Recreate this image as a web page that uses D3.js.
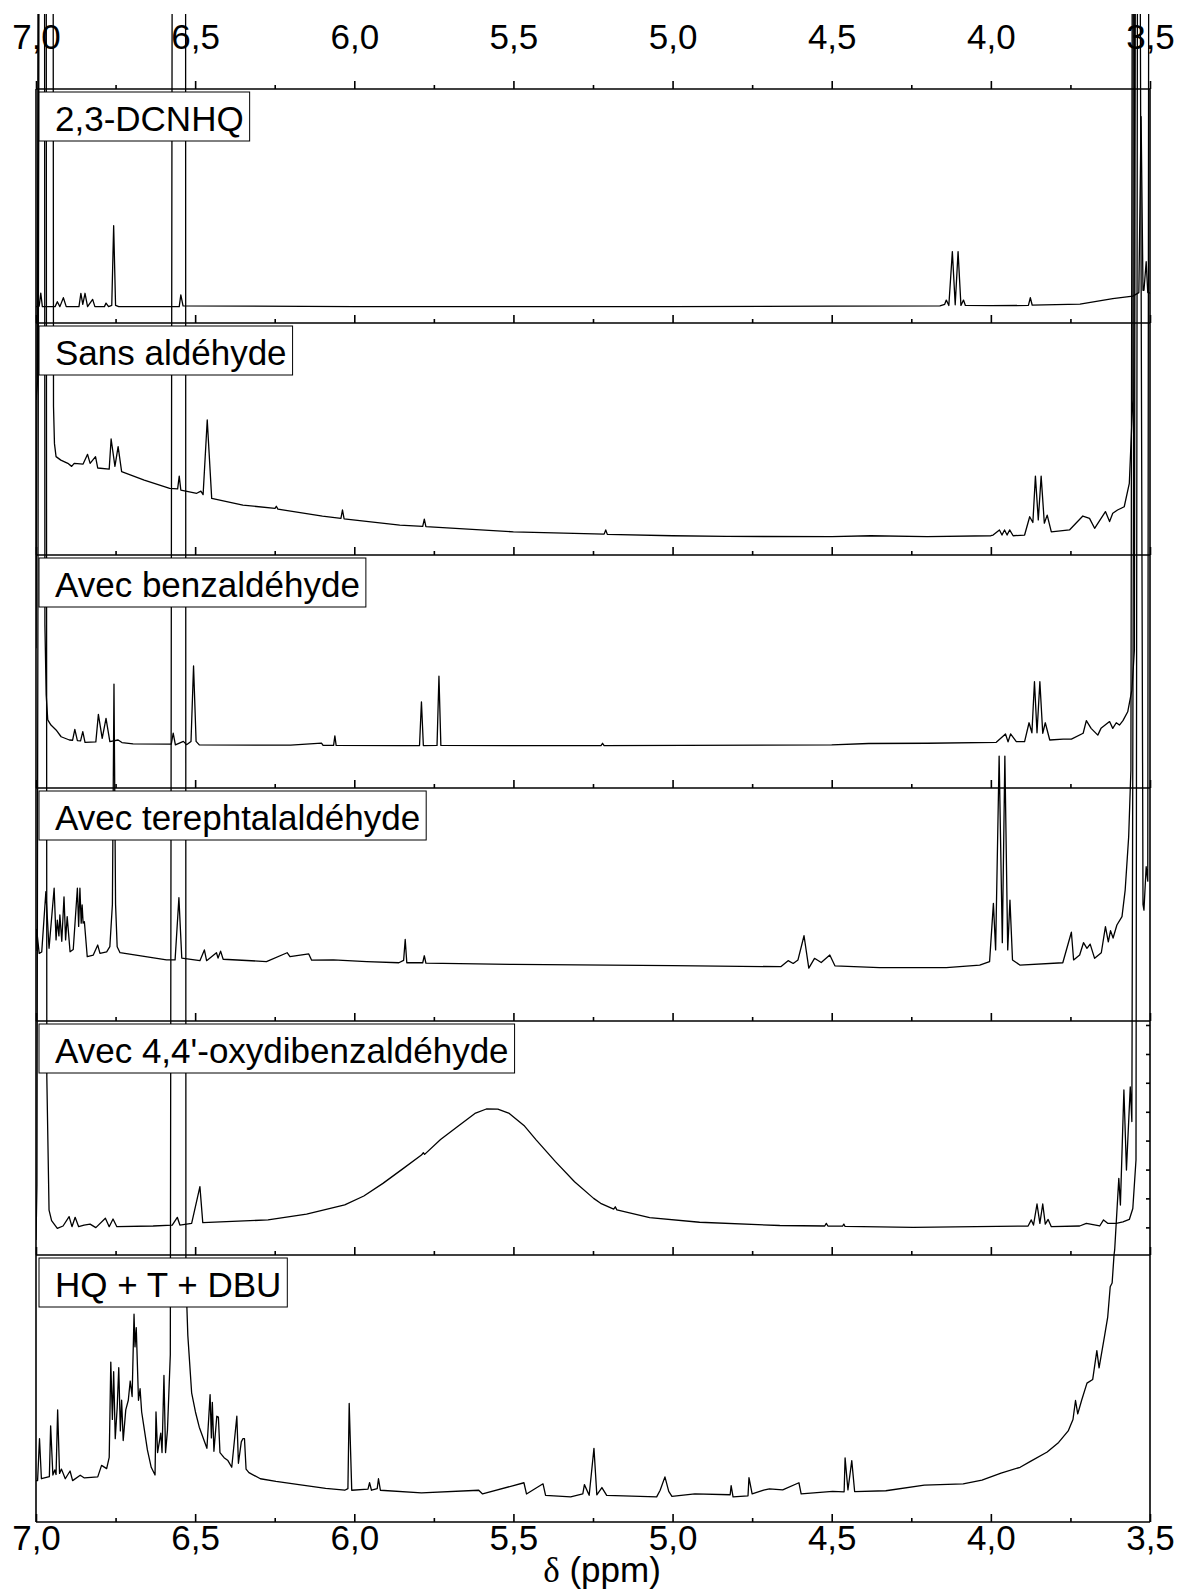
<!DOCTYPE html>
<html><head><meta charset="utf-8">
<script src="https://cdn.jsdelivr.net/npm/d3@7"></script>
<style>body{margin:0;background:#fff}svg{display:block}</style>
</head><body>
<svg id="chart" width="1181" height="1593"></svg>
<script>
// ---------------- DATA ----------------
const panelLabels = ["2,3-DCNHQ", "Sans aldéhyde", "Avec benzaldéhyde", "Avec terephtalaldéhyde", "Avec 4,4'-oxydibenzaldéhyde", "HQ + T + DBU"];
const majorTicks = [7.0, 6.5, 6.0, 5.5, 5.0, 4.5, 4.0, 3.5];
const minorTicks = [6.75, 6.25, 5.75, 5.25, 4.75, 4.25, 3.75];
const xLabel = ["δ", " (ppm)"];
const oxyRightTicks = [11.8, 24.2, 36.5, 48.9, 61.2, 73.6, 85.9, 98.3];

// [ppm, intensity (% of panel height)]
const dcnhq = [[7.000,7.0],[6.990,7.2],[6.985,12.8],[6.980,7.0],[6.940,7.0],[6.933,9.1],[6.925,7.0],[6.914,10.8],[6.905,7.0],[6.865,7.0],[6.859,12.7],[6.853,8.0],[6.846,12.7],[6.838,7.0],[6.822,10.1],[6.815,7.0],[6.785,7.0],[6.780,8.5],[6.772,7.0],[6.762,7.5],[6.756,41.6],[6.750,7.5],[6.740,7.0],[6.550,7.0],[6.545,12.0],[6.538,7.3],[6.000,7.0],[5.000,7.0],[4.500,7.2],[4.160,7.3],[4.145,8.0],[4.140,9.8],[4.132,7.5],[4.121,30.5],[4.112,7.8],[4.103,30.5],[4.094,7.5],[4.086,9.8],[4.080,7.5],[4.000,7.4],[3.882,7.5],[3.876,10.8],[3.870,7.6],[3.720,8.1],[3.617,10.4],[3.554,11.5],[3.535,13.0],[3.528,88.2],[3.522,14.0],[3.519,14.0],[3.512,26.2],[3.507,13.0],[3.504,12.7],[3.500,13.0]];

const sans = [[7.000,66.8],[6.995,75],[6.990,600],[6.948,600],[6.945,64],[6.942,48],[6.937,42.4],[6.922,40.9],[6.900,39.5],[6.888,38.2],[6.880,39.5],[6.852,39.2],[6.838,43.4],[6.830,39.5],[6.813,42.4],[6.806,37.5],[6.770,37],[6.764,50],[6.752,38.2],[6.742,46.7],[6.731,35.9],[6.660,32.3],[6.580,28.7],[6.555,28.5],[6.550,34],[6.545,28],[6.495,26.6],[6.482,27.5],[6.475,26],[6.462,58.2],[6.448,24.4],[6.350,21.5],[6.249,20.1],[6.245,21],[6.240,19.8],[6.100,16.8],[6.042,15.8],[6.037,19.4],[6.032,15.6],[5.857,12.9],[5.785,12.3],[5.780,15.5],[5.775,12.2],[5.500,10],[5.215,9],[5.210,10.8],[5.205,8.9],[5.000,8.3],[4.830,8],[4.500,7.9],[4.378,8.3],[4.200,7.9],[4.000,8.3],[3.993,8.6],[3.973,10.8],[3.965,8.6],[3.957,10.8],[3.949,8.6],[3.941,10.8],[3.930,8.3],[3.894,8.6],[3.878,16.5],[3.868,14],[3.860,34],[3.851,15.1],[3.842,34],[3.832,13.7],[3.823,17.2],[3.810,10],[3.753,10.8],[3.711,16.8],[3.690,15.8],[3.674,11.5],[3.640,18.7],[3.627,14.4],[3.617,18],[3.602,19.4],[3.581,20.8],[3.565,30.9],[3.554,66.8],[3.549,600],[3.500,600]];

const benz = [[7.000,60],[6.985,600],[6.974,600],[6.972,70],[6.968,40],[6.963,29.2],[6.953,27],[6.937,24.9],[6.921,22],[6.895,20.6],[6.885,20.5],[6.878,25.2],[6.870,20.3],[6.860,20.2],[6.853,24.2],[6.846,19.6],[6.812,19.8],[6.804,31.6],[6.792,21.3],[6.780,29.9],[6.768,19.9],[6.742,20.6],[6.730,19.5],[6.695,18.9],[6.575,18.8],[6.569,23.5],[6.562,18.5],[6.537,20.0],[6.527,18.6],[6.513,20],[6.505,52.4],[6.497,20],[6.487,18.5],[6.200,18.4],[6.103,19.3],[6.098,18.3],[6.065,18.3],[6.061,22.4],[6.057,18.3],[5.857,18.2],[5.795,18.2],[5.789,37],[5.783,18.2],[5.740,18.3],[5.734,48],[5.728,18.3],[5.500,18.2],[5.225,18.2],[5.220,19.2],[5.215,18.2],[4.500,18.5],[4.384,19.1],[4.200,19.2],[3.983,19.6],[3.954,23.2],[3.946,19.8],[3.938,23.2],[3.920,19.9],[3.894,19.9],[3.880,28],[3.871,23.7],[3.863,45.6],[3.855,23.7],[3.846,45.6],[3.837,23.5],[3.829,28],[3.815,20.6],[3.773,21],[3.747,21],[3.710,23.5],[3.700,28.9],[3.685,25.6],[3.664,22.7],[3.654,25.6],[3.627,28.5],[3.617,25.6],[3.606,28],[3.596,27],[3.585,28.9],[3.570,32.7],[3.557,42],[3.549,59.2],[3.544,600],[3.500,600]];

const tere = [[7.000,30],[6.998,39.3],[6.990,29],[6.982,29.6],[6.969,55.5],[6.959,31.2],[6.943,57],[6.937,34.8],[6.933,43.3],[6.928,36.5],[6.925,45.5],[6.919,34.2],[6.912,53.3],[6.907,34.8],[6.902,44.8],[6.893,29.7],[6.883,30.7],[6.870,57],[6.866,40.6],[6.862,57],[6.858,42],[6.855,49.8],[6.852,42],[6.848,42.6],[6.839,27.6],[6.820,28.3],[6.806,32.6],[6.799,29],[6.778,29.7],[6.768,31.9],[6.760,50],[6.755,144.6],[6.750,50],[6.745,31.9],[6.736,29.3],[6.590,26.2],[6.563,26.2],[6.551,52.9],[6.542,27],[6.485,25.9],[6.471,30.5],[6.464,25.9],[6.433,29.3],[6.428,27],[6.420,30],[6.412,26.5],[6.276,25.5],[6.211,29.3],[6.202,27.6],[6.143,28.8],[6.134,26.1],[6.066,26.2],[5.961,25.5],[5.860,25.0],[5.845,26],[5.840,35],[5.835,25],[5.785,25],[5.780,28],[5.775,24.8],[5.500,24.3],[5.000,23.8],[4.660,23.3],[4.637,25.9],[4.621,24.7],[4.606,26.2],[4.587,36.6],[4.572,22.7],[4.554,26.9],[4.533,25.1],[4.506,28.3],[4.490,23.7],[4.350,22.9],[4.140,22.9],[4.035,24],[4.004,25.5],[3.992,50.5],[3.985,30.5],[3.974,113.7],[3.964,33.6],[3.956,113.7],[3.947,30.5],[3.940,51.9],[3.932,26.2],[3.909,24],[3.774,25],[3.747,38.1],[3.740,26.2],[3.721,28.3],[3.709,33.6],[3.698,31.2],[3.688,33],[3.674,26.9],[3.653,29.3],[3.640,40.5],[3.631,34],[3.624,38.8],[3.616,35.6],[3.604,41.2],[3.588,44.8],[3.578,56.2],[3.567,79.1],[3.560,107.7],[3.554,600],[3.534,600],[3.522,50],[3.519,47.6],[3.512,66.2],[3.507,60],[3.503,600],[3.500,600]];

const oxy = [[7.000,6.4],[6.997,30],[6.990,600],[6.968,600],[6.966,76],[6.959,19.2],[6.951,14.7],[6.933,11.4],[6.915,12.4],[6.896,16.4],[6.887,12.1],[6.877,16.1],[6.866,12.1],[6.849,12.8],[6.830,13.2],[6.812,11.7],[6.782,15.7],[6.770,12.1],[6.758,15.4],[6.746,12.1],[6.632,12.4],[6.572,12.8],[6.556,16.1],[6.548,12.8],[6.511,13.5],[6.485,29.2],[6.476,13.8],[6.271,15.0],[6.150,17.5],[6.030,21.4],[5.970,25.2],[5.910,30.6],[5.850,36.6],[5.789,42.7],[5.783,43.7],[5.779,43.0],[5.729,49.4],[5.669,55.6],[5.621,60.5],[5.585,62.4],[5.549,62.3],[5.513,60.5],[5.465,55.1],[5.428,49.1],[5.368,39.9],[5.308,31.3],[5.248,24.2],[5.226,22.1],[5.185,19.6],[5.180,20.6],[5.175,19.3],[5.072,16],[4.915,14],[4.663,12.6],[4.522,12.4],[4.517,13.5],[4.512,12.4],[4.466,12.3],[4.462,13.2],[4.458,12.2],[4.244,11.8],[3.883,12.4],[3.873,15],[3.866,12.8],[3.855,21.8],[3.846,13.5],[3.837,21.8],[3.829,13.2],[3.820,15.2],[3.810,12.1],[3.721,12.4],[3.700,13.5],[3.658,12.4],[3.646,15],[3.632,13.5],[3.606,13.5],[3.585,14.2],[3.565,15.2],[3.554,19.9],[3.544,40.6],[3.539,600],[3.500,600]];

const hqtdbu = [[7.000,15.5],[6.995,15.5],[6.989,31.2],[6.983,16.2],[6.958,17.0],[6.954,36],[6.947,17.6],[6.941,19.5],[6.937,17.8],[6.932,42],[6.926,18.2],[6.920,19.8],[6.908,16.2],[6.893,19.1],[6.885,15.5],[6.861,17.5],[6.848,16.5],[6.806,16.9],[6.794,21.2],[6.778,20.0],[6.770,24.2],[6.765,59.9],[6.760,38.4],[6.756,56.3],[6.751,31.2],[6.745,42.7],[6.740,57.8],[6.735,34.1],[6.731,45.6],[6.726,30.5],[6.718,42],[6.710,45.6],[6.704,52.8],[6.698,47],[6.692,77.8],[6.689,65.6],[6.685,72.8],[6.678,45.6],[6.673,49.9],[6.668,41.2],[6.662,36.5],[6.650,27],[6.638,20.5],[6.626,17.6],[6.623,41.2],[6.618,26],[6.608,33.3],[6.604,26],[6.598,54.9],[6.593,26],[6.587,34.3],[6.578,62.7],[6.572,600],[6.530,600],[6.529,91.4],[6.523,69.9],[6.511,48.4],[6.499,41.2],[6.487,35.5],[6.463,27.6],[6.453,47.7],[6.449,31.5],[6.446,44.8],[6.441,26.5],[6.432,39.6],[6.427,39.3],[6.422,26.0],[6.409,24.1],[6.397,23],[6.385,20.5],[6.369,39.6],[6.364,22],[6.355,30],[6.350,31.2],[6.345,31.2],[6.340,19.8],[6.331,18.5],[6.295,16.2],[6.246,15.2],[6.174,14.0],[6.090,12.6],[6.030,11.9],[6.020,12.5],[6.016,44.4],[6.008,11.9],[5.957,12.3],[5.952,14.7],[5.946,11.9],[5.928,12.5],[5.924,16.2],[5.918,11.9],[5.789,10.9],[5.609,11.9],[5.597,10.5],[5.467,14.7],[5.459,10.5],[5.407,14.3],[5.399,10],[5.320,9.4],[5.282,10.5],[5.277,14],[5.262,10],[5.247,27.6],[5.238,10.2],[5.222,12.9],[5.207,10],[5.050,9.4],[5.039,11.9],[5.024,16.9],[5.012,11.5],[5.002,9.6],[4.930,10.5],[4.819,10.2],[4.816,13.6],[4.810,9.4],[4.763,9.8],[4.760,16.6],[4.750,10.5],[4.714,11.9],[4.696,12.4],[4.654,12.0],[4.603,14.7],[4.596,10.5],[4.497,11.5],[4.461,11.3],[4.458,24],[4.449,12],[4.437,23],[4.428,11.4],[4.330,11.7],[4.209,13.8],[4.087,14.3],[4.028,15.7],[3.968,18.3],[3.908,20.5],[3.877,22.6],[3.823,26.2],[3.787,29.8],[3.757,34.1],[3.742,38.4],[3.734,45.5],[3.727,40.5],[3.715,45.5],[3.698,52],[3.680,53.4],[3.667,64.2],[3.660,57.7],[3.643,69.5],[3.633,76.6],[3.625,88.1],[3.619,89.5],[3.613,100],[3.611,101.9],[3.598,128.7],[3.593,118.7],[3.582,161.8],[3.574,131.8],[3.562,163],[3.557,150],[3.548,565],[3.500,565]];

const spectra = [dcnhq, sans, benz, tere, oxy, hqtdbu];

// ---------------- LAYOUT ----------------
const W = 1181, H = 1593;
const xLeft = 36, xRight = 1150;
const panelEdges = [89, 323, 555, 788, 1021, 1255, 1522];
const FONT = "Arial, 'Liberation Sans', Helvetica, sans-serif";

const svg = d3.select("#chart");
const x = d3.scaleLinear().domain([7.0, 3.5]).range([xLeft, xRight]);
const fmt = d => d.toFixed(1).replace(".", ",");

svg.append("defs").append("clipPath").attr("id", "clipAll")
  .append("rect").attr("x", xLeft).attr("y", 14).attr("width", xRight - xLeft + 1).attr("height", H - 14);

const yScales = spectra.map((s, i) =>
  d3.scaleLinear().domain([0, 100]).range([panelEdges[i + 1], panelEdges[i]]));

// spectra
const gSpec = svg.append("g").attr("clip-path", "url(#clipAll)");
spectra.forEach((s, i) => {
  const line = d3.line().x(d => x(d[0])).y(d => yScales[i](d[1]));
  gSpec.append("path").datum(s).attr("d", line)
    .attr("fill", "none").attr("stroke", "#000").attr("stroke-width", 1.3)
    .attr("stroke-linejoin", "round");
});

// frame and axes
const gAx = svg.append("g");
function styleAxis(g) {
  g.select(".domain").remove();
  g.selectAll(".tick line").attr("stroke", "#000").attr("stroke-width", 1.6);
}
// top axis with labels
const topAx = gAx.append("g").attr("transform", `translate(0,${panelEdges[0]})`)
  .call(d3.axisTop(x).tickValues(majorTicks).tickSize(8).tickFormat(fmt));
styleAxis(topAx);
topAx.selectAll(".tick text").attr("font-family", FONT).attr("font-size", 35).attr("fill", "#000").attr("dy", 0).attr("y", -40);
gAx.append("g").attr("transform", `translate(0,${panelEdges[0]})`)
  .call(d3.axisTop(x).tickValues(minorTicks).tickSize(4).tickFormat("")).call(styleAxis);

// panel bottoms: inward ticks
for (let i = 1; i < panelEdges.length; i++) {
  gAx.append("g").attr("transform", `translate(0,${panelEdges[i]})`)
    .call(d3.axisTop(x).tickValues(majorTicks).tickSize(8).tickFormat("")).call(styleAxis);
  gAx.append("g").attr("transform", `translate(0,${panelEdges[i]})`)
    .call(d3.axisTop(x).tickValues(minorTicks).tickSize(4).tickFormat("")).call(styleAxis);
}
// bottom labels
const botAx = gAx.append("g").attr("transform", `translate(0,${panelEdges[6]})`)
  .call(d3.axisBottom(x).tickValues(majorTicks).tickSize(0).tickFormat(fmt));
botAx.select(".domain").remove();
botAx.selectAll(".tick line").remove();
botAx.selectAll(".tick text").attr("font-family", FONT).attr("font-size", 35).attr("fill", "#000").attr("dy", 0).attr("y", 28);

// horizontal lines
panelEdges.forEach(y => gAx.append("line").attr("x1", xLeft).attr("x2", xRight).attr("y1", y).attr("y2", y)
  .attr("stroke", "#000").attr("stroke-width", 1.6));
// vertical frame
[xLeft, xRight].forEach(xx => gAx.append("line").attr("x1", xx).attr("x2", xx)
  .attr("y1", panelEdges[0]).attr("y2", panelEdges[6]).attr("stroke", "#000").attr("stroke-width", 1.6));

// right ticks on oxy panel
const rAx = gAx.append("g").attr("transform", `translate(${xRight},0)`)
  .call(d3.axisLeft(yScales[4]).tickValues(oxyRightTicks).tickSize(4).tickFormat(""));
styleAxis(rAx);

// panel labels
const gLab = svg.append("g");
panelLabels.forEach((lab, i) => {
  const top = panelEdges[i] + 3;
  const g = gLab.append("g");
  const rect = g.append("rect").attr("x", 39).attr("y", top).attr("height", 49)
    .attr("fill", "#fff").attr("stroke", "#000").attr("stroke-width", 1);
  const t = g.append("text").attr("x", 55).attr("y", top + 38.5)
    .attr("font-family", FONT).attr("font-size", 35).attr("fill", "#000").text(lab);
  const w = t.node().getComputedTextLength();
  rect.attr("width", w + 22);
});

// x axis title
const title = svg.append("text").attr("x", 602).attr("y", 1582)
  .attr("text-anchor", "middle").attr("font-size", 35).attr("fill", "#000");
title.append("tspan").attr("font-family", "'Times New Roman', 'Liberation Serif', serif").text(xLabel[0]);
title.append("tspan").attr("font-family", FONT).text(xLabel[1]);
</script>
</body></html>
